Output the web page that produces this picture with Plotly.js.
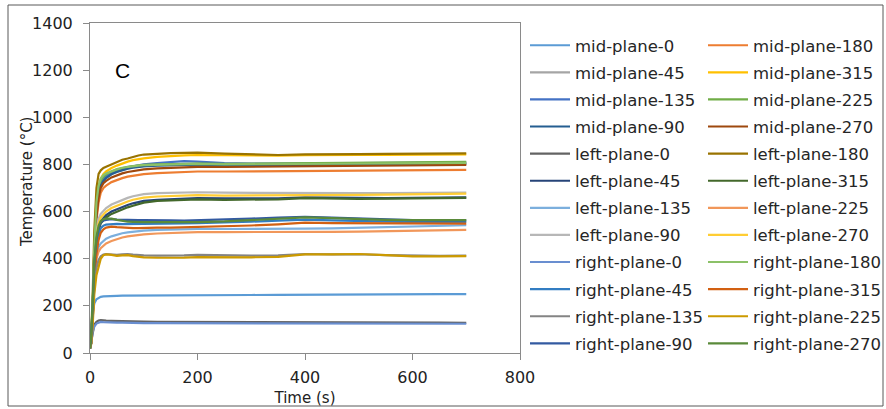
<!DOCTYPE html>
<html>
<head>
<meta charset="utf-8">
<script src="https://cdn.plot.ly/plotly-3.0.1.min.js"></script>
<style>html,body{margin:0;padding:0;background:#fff;}#chart{width:886px;height:409px;}</style>
</head>
<body>
<div id="chart"></div>
<script>
// Time (s)
const time = [0, 2, 5, 8, 12, 16, 20, 25, 30, 40, 50, 60, 70, 80, 90, 100, 125, 150, 175, 200, 250, 300, 350, 400, 450, 500, 550, 600, 650, 700];

// Temperature (°C), one array per thermocouple
const midPlane0   = [20, 60, 170, 210, 228, 235, 238, 240, 241, 242, 242, 243, 243, 244, 244, 245, 245, 245, 246, 246, 246, 246, 247, 248, 248, 248, 249, 249, 250, 250];
const midPlane180 = [20, 40, 150, 360, 560, 640, 680, 700, 710, 725, 735, 742, 748, 752, 756, 759, 763, 766, 768, 770, 770, 771, 772, 773, 773, 774, 775, 776, 776, 777];
const midPlane45  = [20, 50, 190, 420, 610, 680, 715, 735, 745, 760, 770, 777, 783, 788, 791, 794, 797, 799, 800, 800, 798, 799, 800, 801, 800, 801, 802, 803, 803, 803];
const midPlane315 = [20, 50, 200, 450, 640, 710, 740, 760, 770, 785, 795, 805, 812, 818, 822, 826, 832, 836, 838, 840, 838, 838, 837, 839, 838, 840, 840, 842, 842, 843];
const midPlane135 = [20, 50, 190, 430, 620, 690, 720, 740, 750, 765, 775, 782, 788, 792, 796, 800, 806, 810, 814, 812, 806, 804, 803, 805, 804, 806, 806, 807, 808, 808];
const midPlane225 = [20, 55, 200, 440, 630, 700, 730, 748, 758, 770, 778, 785, 790, 793, 796, 798, 800, 802, 803, 804, 802, 803, 804, 806, 806, 808, 808, 810, 810, 811];
const midPlane90  = [20, 45, 180, 410, 600, 675, 710, 730, 742, 758, 768, 776, 782, 786, 790, 792, 795, 797, 798, 799, 797, 797, 798, 799, 798, 799, 800, 800, 801, 801];
const midPlane270 = [20, 40, 160, 380, 580, 660, 700, 720, 730, 745, 755, 762, 768, 772, 776, 779, 783, 786, 788, 790, 789, 790, 791, 792, 792, 794, 795, 796, 797, 798];
const leftPlane0   = [20, 45, 100, 120, 132, 138, 140, 138, 137, 136, 135, 135, 134, 134, 133, 133, 132, 132, 131, 131, 130, 130, 130, 130, 129, 129, 129, 129, 129, 128];
const leftPlane180 = [20, 60, 250, 520, 700, 760, 775, 785, 790, 800, 810, 820, 825, 832, 838, 842, 846, 848, 849, 850, 846, 842, 840, 843, 842, 844, 845, 846, 848, 847];
const leftPlane45  = [20, 40, 160, 350, 470, 530, 560, 575, 585, 600, 610, 620, 628, 635, 640, 645, 650, 653, 655, 657, 656, 655, 656, 660, 658, 657, 657, 658, 659, 660];
const leftPlane315 = [20, 40, 150, 340, 460, 520, 550, 565, 575, 590, 600, 610, 618, 625, 632, 638, 645, 648, 650, 652, 650, 651, 652, 657, 655, 654, 655, 656, 657, 658];
const leftPlane135 = [20, 45, 160, 320, 420, 450, 465, 475, 485, 495, 502, 508, 512, 515, 517, 519, 522, 524, 525, 526, 526, 526, 525, 528, 529, 531, 534, 537, 540, 542];
const leftPlane225 = [20, 40, 140, 300, 400, 430, 445, 455, 465, 475, 483, 490, 495, 498, 500, 503, 507, 510, 512, 513, 513, 513, 512, 511, 514, 515, 517, 519, 521, 522];
const leftPlane90  = [20, 50, 200, 400, 520, 570, 590, 605, 615, 630, 640, 650, 658, 665, 670, 674, 678, 680, 681, 682, 680, 679, 678, 680, 679, 678, 678, 679, 679, 680];
const leftPlane270 = [20, 45, 180, 380, 500, 550, 575, 590, 600, 615, 625, 635, 643, 650, 655, 659, 664, 667, 668, 670, 668, 668, 668, 670, 670, 671, 672, 673, 675, 676];
const rightPlane0   = [20, 40, 90, 112, 125, 130, 132, 131, 130, 130, 129, 129, 128, 128, 128, 127, 127, 127, 127, 126, 126, 126, 125, 125, 125, 125, 125, 124, 124, 124];
const rightPlane180 = [20, 60, 210, 450, 640, 710, 740, 755, 762, 772, 780, 786, 790, 792, 795, 797, 799, 800, 801, 802, 800, 801, 802, 803, 803, 804, 805, 806, 806, 807];
const rightPlane45  = [20, 50, 180, 350, 450, 500, 530, 540, 545, 548, 548, 547, 547, 548, 548, 549, 549, 550, 550, 551, 553, 557, 562, 566, 563, 560, 557, 555, 555, 556];
const rightPlane315 = [20, 40, 140, 300, 420, 480, 510, 525, 532, 536, 534, 532, 530, 530, 530, 531, 532, 532, 533, 534, 537, 541, 546, 553, 551, 550, 549, 548, 548, 549];
const rightPlane135 = [20, 40, 140, 280, 360, 395, 410, 418, 420, 418, 416, 418, 420, 417, 415, 414, 413, 412, 414, 416, 414, 413, 414, 420, 418, 419, 415, 412, 412, 413];
const rightPlane225 = [20, 35, 120, 250, 330, 370, 400, 415, 418, 416, 412, 414, 415, 411, 408, 406, 404, 403, 405, 407, 406, 406, 408, 418, 418, 420, 415, 410, 410, 411];
const rightPlane90  = [20, 60, 200, 380, 480, 530, 555, 562, 565, 568, 566, 565, 563, 563, 564, 564, 565, 563, 562, 563, 565, 570, 574, 578, 574, 570, 566, 564, 563, 563];
const rightPlane270 = [20, 70, 210, 390, 490, 540, 560, 568, 570, 570, 565, 560, 557, 556, 555, 555, 555, 554, 554, 555, 558, 563, 568, 575, 572, 568, 565, 564, 563, 564];

const seriesNames = ["mid-plane-0","mid-plane-180","mid-plane-45","mid-plane-315","mid-plane-135","mid-plane-225","mid-plane-90","mid-plane-270",
  "left-plane-0","left-plane-180","left-plane-45","left-plane-315","left-plane-135","left-plane-225","left-plane-90","left-plane-270",
  "right-plane-0","right-plane-180","right-plane-45","right-plane-315","right-plane-135","right-plane-225","right-plane-90","right-plane-270"];
const seriesValues = [midPlane0, midPlane180, midPlane45, midPlane315, midPlane135, midPlane225, midPlane90, midPlane270,
  leftPlane0, leftPlane180, leftPlane45, leftPlane315, leftPlane135, leftPlane225, leftPlane90, leftPlane270,
  rightPlane0, rightPlane180, rightPlane45, rightPlane315, rightPlane135, rightPlane225, rightPlane90, rightPlane270];
const seriesColors = ["#5B9BD5","#ED7D31","#A5A5A5","#FFC000","#4472C4","#70AD47","#255E91","#9E480E",
  "#636363","#997300","#264478","#43682B","#7CAFDD","#F1975A","#B7B7B7","#FFCD33",
  "#698ED0","#8CC168","#327DC2","#D26012","#848484","#CC9A00","#335AA1","#5A8A3A"];

const traces = seriesNames.map((name, i) => ({
  x: time, y: seriesValues[i], name: name, type: "scatter", mode: "lines",
  line: {color: seriesColors[i], width: 2.2},
  legend: i % 2 === 0 ? "legend" : "legend2",
  legendgroup: "g" + i
}));

// pixel -> paper helpers (plot area 90..520 x, 23..353 y)
const px = p => (p - 90) / 430;
const py = p => (353 - p) / 330;
const legFont = {family: "DejaVu Sans", size: 16.5, color: "#262626"};

const layout = {
  width: 886, height: 409,
  margin: {l: 90, r: 366, t: 23, b: 56, autoexpand: false},
  paper_bgcolor: "#fff", plot_bgcolor: "#fff",
  font: {family: "DejaVu Sans", color: "#222"},
  showlegend: true,
  xaxis: {
    range: [0, 800], tickvals: [0, 200, 400, 600, 800], showgrid: false, zeroline: false,
    showline: true, linecolor: "#8a8a8a", linewidth: 1, mirror: true,
    ticks: "outside", ticklen: 6, tickcolor: "#8a8a8a", ticklabelstandoff: 4,
    tickfont: {family: "DejaVu Sans", size: 16, color: "#222"},
    title: {text: "Time (s)", font: {family: "DejaVu Sans", size: 15, color: "#222"}, standoff: 6}
  },
  yaxis: {
    range: [0, 1400], tickvals: [0, 200, 400, 600, 800, 1000, 1200, 1400], showgrid: false, zeroline: false,
    showline: true, linecolor: "#8a8a8a", linewidth: 1, mirror: true,
    ticks: "outside", ticklen: 6, tickcolor: "#8a8a8a", ticklabelstandoff: 7,
    tickfont: {family: "DejaVu Sans", size: 16, color: "#222"}
  },
  legend: {x: px(525), y: py(28), xanchor: "left", yanchor: "top", font: legFont, maxheight: 400,
    traceorder: "grouped", tracegroupgap: 2.65, itemwidth: 40, bgcolor: "rgba(0,0,0,0)", borderwidth: 0},
  legend2: {x: px(703), y: py(28), xanchor: "left", yanchor: "top", font: legFont, maxheight: 400,
    traceorder: "grouped", tracegroupgap: 2.65, itemwidth: 40, bgcolor: "rgba(0,0,0,0)", borderwidth: 0},
  annotations: [{
    text: "C", xref: "paper", yref: "paper", x: px(122), y: py(70), xanchor: "center", yanchor: "middle", showarrow: false,
    font: {family: "Liberation Sans", size: 21, color: "#000"}
  }, {
    text: "Temperature (°C)", xref: "paper", yref: "paper", x: px(27), y: py(182), xanchor: "center", yanchor: "middle",
    textangle: -90, showarrow: false, font: {family: "DejaVu Sans", size: 15, color: "#222"}
  }],
  shapes: [{
    type: "rect", xref: "paper", yref: "paper", x0: px(8), x1: px(883), y0: py(406), y1: py(5),
    line: {color: "#595959", width: 1}, fillcolor: "rgba(0,0,0,0)", layer: "below"
  }]
};

Plotly.newPlot("chart", traces, layout, {displayModeBar: false, staticPlot: true});
</script>
</body>
</html>
